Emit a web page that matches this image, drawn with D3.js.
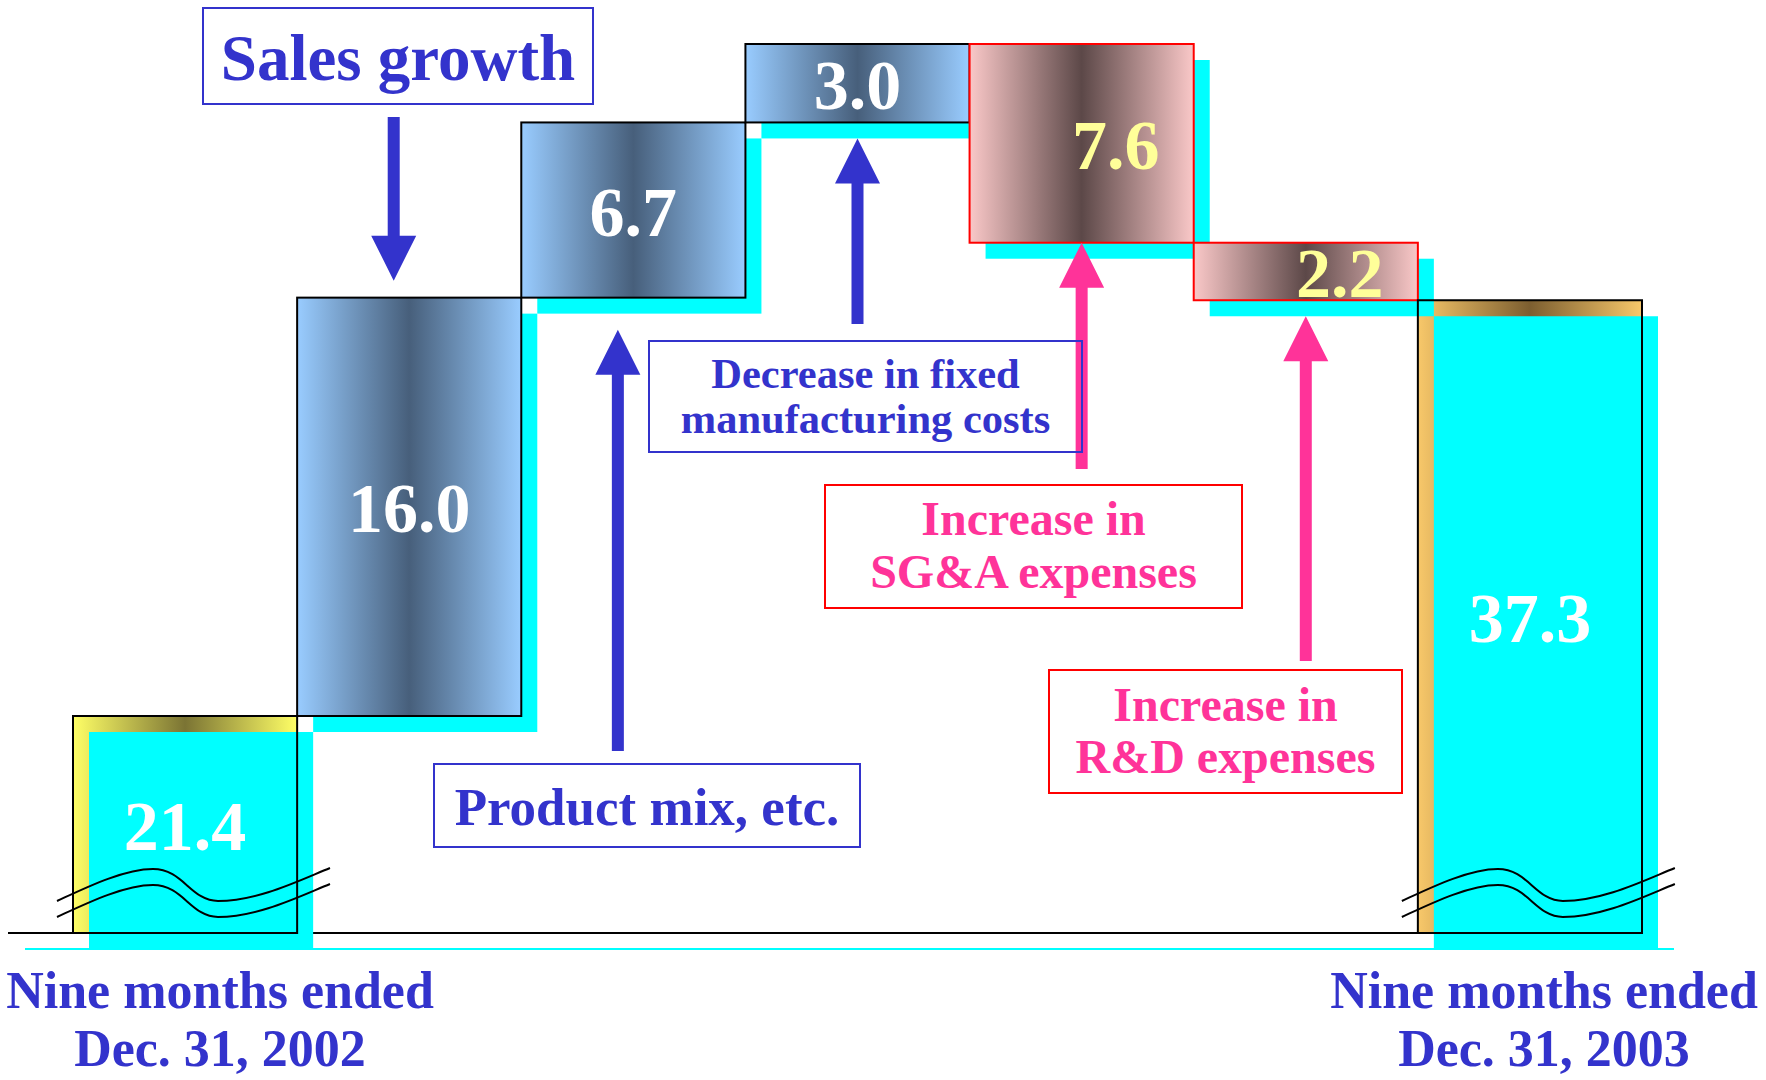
<!DOCTYPE html>
<html>
<head>
<meta charset="utf-8">
<script src="https://cdn.jsdelivr.net/npm/d3@7"></script>
<style>
  html, body { margin: 0; padding: 0; background: #ffffff; }
  svg { display: block; }
</style>
</head>
<body>
<svg id="chart" width="1766" height="1080"></svg>
<script>
// Operating income bridge: nine months ended Dec. 31, 2002 -> 2003

const categories = [
  "Nine months ended Dec. 31, 2002",
  "Sales growth",
  "Product mix, etc.",
  "Decrease in fixed manufacturing costs",
  "Increase in SG&A expenses",
  "Increase in R&D expenses",
  "Nine months ended Dec. 31, 2003"
];
const changes = [21.4, 16.0, 6.7, 3.0, -7.6, -2.2, 37.3];
const kinds = ["total", "up", "up", "up", "down", "down", "total"];
const valueLabels = ["21.4", "16.0", "6.7", "3.0", "7.6", "2.2", "37.3"];
const periodLabels = [
  ["Nine months ended", "Dec. 31, 2002"],
  ["Nine months ended", "Dec. 31, 2003"]
];
const driverLabels = [
  ["Sales growth"],
  ["Product mix, etc."],
  ["Decrease in fixed", "manufacturing costs"],
  ["Increase in", "SG&A expenses"],
  ["Increase in", "R&D expenses"]
];

// ---- build the waterfall steps ----
let level = 0;
const steps = categories.map((c, i) => {
  let start, end;
  if (kinds[i] === "total") { start = null; end = changes[i]; level = end; }
  else { start = level; end = level + changes[i]; level = end; }
  return { cat: c, kind: kinds[i], start, end, label: valueLabels[i], i };
});

const levels = steps.flatMap(s => s.start === null ? [s.end] : [s.start, s.end]);

// ---- scales ----
const baselineY = 933;              // broken axis: totals rest on this line
const x = d3.scaleBand().domain(categories).range([73, 1642]).padding(0);
const y = d3.scaleLinear().domain(d3.extent(levels)).range([716, 44]);

const BLUE = "#3333CC", PINK = "#FF3399", RED = "#FF0000", CYAN = "#00FFFF";
const SERIF = "'Liberation Serif', 'Times New Roman', Times, serif";
const SHADOW = 16;

const svg = d3.select("#chart");
const defs = svg.append("defs");

function hGradient(id, edge, mid) {
  const g = defs.append("linearGradient").attr("id", id)
    .attr("x1", 0).attr("y1", 0).attr("x2", 1).attr("y2", 0);
  g.append("stop").attr("offset", 0).attr("stop-color", edge);
  g.append("stop").attr("offset", 0.5).attr("stop-color", mid);
  g.append("stop").attr("offset", 1).attr("stop-color", edge);
}
hGradient("gUp", "#99CCFF", "#475F7B");
hGradient("gDown", "#FAC8C8", "#5C4848");
hGradient("gStart", "#FFFF66", "#7B7434");
hGradient("gEnd", "#F8C86A", "#7C5E30");

function geom(s) {
  const x0 = x(s.cat), w = x.bandwidth();
  let top, bottom;
  if (s.kind === "total") { top = y(s.end); bottom = baselineY; }
  else { top = Math.min(y(s.start), y(s.end)); bottom = Math.max(y(s.start), y(s.end)); }
  return { x0, w, top, bottom, h: bottom - top };
}

// ---- ground lines ----
svg.append("line").attr("x1", 25).attr("x2", 1674).attr("y1", 949).attr("y2", 949)
  .attr("stroke", CYAN).attr("stroke-width", 2);
svg.append("line").attr("x1", 8).attr("x2", 1658).attr("y1", baselineY).attr("y2", baselineY)
  .attr("stroke", "#000").attr("stroke-width", 2);

const totals = steps.filter(s => s.kind === "total");
const deltas = steps.filter(s => s.kind !== "total");

// total bars: gradient frame
svg.append("g").selectAll("rect").data(totals).join("rect")
  .attr("x", d => geom(d).x0).attr("y", d => geom(d).top)
  .attr("width", d => geom(d).w).attr("height", d => geom(d).h)
  .attr("fill", d => d.i === 0 ? "url(#gStart)" : "url(#gEnd)");

// cyan offset layer for every bar
svg.append("g").selectAll("rect").data(steps).join("rect")
  .attr("x", d => geom(d).x0 + SHADOW)
  .attr("y", d => geom(d).top + SHADOW)
  .attr("width", d => geom(d).w)
  .attr("height", d => geom(d).h)
  .attr("fill", CYAN);

// change bars
svg.append("g").selectAll("rect").data(deltas).join("rect")
  .attr("x", d => geom(d).x0).attr("y", d => geom(d).top)
  .attr("width", d => geom(d).w).attr("height", d => geom(d).h)
  .attr("fill", d => d.kind === "up" ? "url(#gUp)" : "url(#gDown)")
  .attr("stroke", d => d.kind === "up" ? "#000" : RED)
  .attr("stroke-width", 2);

// total bar outlines
svg.append("g").selectAll("rect").data(totals).join("rect")
  .attr("x", d => geom(d).x0).attr("y", d => geom(d).top)
  .attr("width", d => geom(d).w).attr("height", d => geom(d).h)
  .attr("fill", "none").attr("stroke", "#000").attr("stroke-width", 2);

// axis-break marks on the totals
function breakPath(x0, yb, off) {
  const p = d3.path();
  p.moveTo(x0 - 16, yb - 32 + off);
  p.bezierCurveTo(x0 + 10, yb - 44 + off, x0 + 50, yb - 64 + off, x0 + 80, yb - 64 + off);
  p.bezierCurveTo(x0 + 110, yb - 64 + off, x0 + 118, yb - 32 + off, x0 + 145, yb - 32 + off);
  p.bezierCurveTo(x0 + 185, yb - 32 + off, x0 + 225, yb - 52 + off, x0 + 257, yb - 65 + off);
  return p.toString();
}
const breaks = svg.append("g");
totals.forEach(d => {
  [0, 16].forEach(off => {
    breaks.append("path").attr("d", breakPath(geom(d).x0, baselineY, off))
      .attr("fill", "none").attr("stroke", "#000").attr("stroke-width", 2);
  });
});

// value labels
svg.append("g").selectAll("text").data(steps).join("text")
  .attr("x", d => geom(d).x0 + geom(d).w / 2 + (d.kind === "down" ? 34 : 0))
  .attr("y", d => (geom(d).top + geom(d).bottom) / 2 + 25.5)
  .attr("text-anchor", "middle")
  .attr("font-family", SERIF).attr("font-weight", "bold").attr("font-size", 70)
  .attr("fill", d => d.kind === "down" ? "#FFFF99" : "#FFFFFF")
  .text(d => d.label);

// ---- driver annotations: box, text and arrow ----
const noteLayout = [
  { box: [203, 8, 593, 104], size: 65, baselines: [80], color: BLUE, border: BLUE, dx: -15.5, dir: "down", tail: 117, gap: 17 },
  { box: [434, 764, 860, 847], size: 53, baselines: [825], color: BLUE, border: BLUE, dx: -15.5, dir: "up", tail: 751, gap: 32 },
  { box: [649, 341, 1082, 452], size: 42.5, baselines: [388, 433], color: BLUE, border: BLUE, dx: 0, dir: "up", tail: 324, gap: 16 },
  { box: [825, 485, 1242, 608], size: 48, baselines: [535, 588], color: PINK, border: RED, dx: 0, dir: "up", tail: 469, gap: 0 },
  { box: [1049, 670, 1402, 793], size: 48, baselines: [721, 773], color: PINK, border: RED, dx: 0, dir: "up", tail: 661, gap: 16 }
];

const arrows = svg.append("g");
const notes = svg.append("g");
deltas.forEach((d, k) => {
  const L = noteLayout[k], g = geom(d);
  const ax = g.x0 + g.w / 2 + L.dx;
  const shaftW = 12, headW = 45, headL = 45;
  let tip, base;
  if (L.dir === "down") { tip = g.top - L.gap; base = tip - headL; }
  else { tip = g.bottom + L.gap; base = tip + headL; }
  const p = d3.path();
  p.moveTo(ax - shaftW / 2, L.tail);
  p.lineTo(ax - shaftW / 2, base);
  p.lineTo(ax - headW / 2, base);
  p.lineTo(ax, tip);
  p.lineTo(ax + headW / 2, base);
  p.lineTo(ax + shaftW / 2, base);
  p.lineTo(ax + shaftW / 2, L.tail);
  p.closePath();
  arrows.append("path").attr("d", p.toString()).attr("fill", L.color);

  const [bx0, by0, bx1, by1] = L.box;
  notes.append("rect").attr("x", bx0).attr("y", by0)
    .attr("width", bx1 - bx0).attr("height", by1 - by0)
    .attr("fill", "none").attr("stroke", L.border).attr("stroke-width", 2);
  notes.append("g").selectAll("text").data(driverLabels[k]).join("text")
    .attr("x", (bx0 + bx1) / 2).attr("y", (t, j) => L.baselines[j])
    .attr("text-anchor", "middle")
    .attr("font-family", SERIF).attr("font-weight", "bold").attr("font-size", L.size)
    .attr("fill", L.color)
    .text(t => t);
});

// ---- period labels under the totals ----
const periodCenters = [220, 1544];
svg.append("g").selectAll("g").data(periodLabels).join("g")
  .each(function (lines, k) {
    d3.select(this).selectAll("text").data(lines).join("text")
      .attr("x", periodCenters[k])
      .attr("y", (t, j) => [1008, 1066][j])
      .attr("text-anchor", "middle")
      .attr("font-family", SERIF).attr("font-weight", "bold").attr("font-size", 52)
      .attr("fill", BLUE)
      .text(t => t);
  });
</script>
</body>
</html>
